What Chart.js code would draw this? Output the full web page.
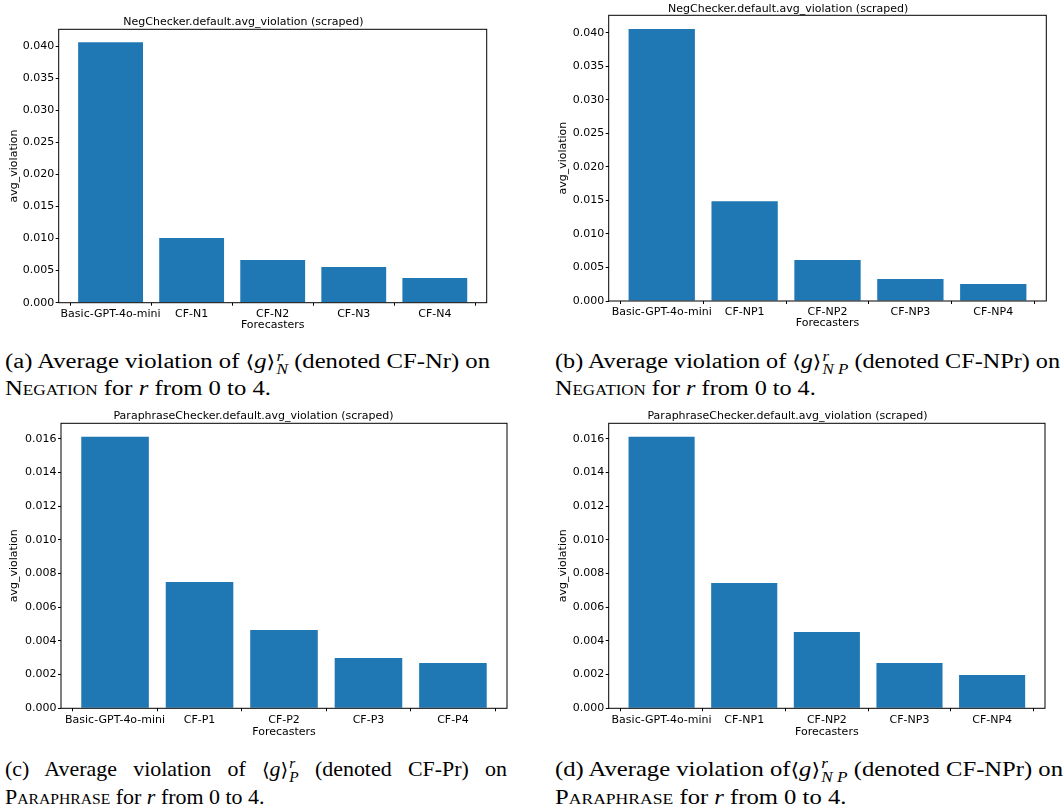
<!DOCTYPE html>
<html>
<head>
<meta charset="utf-8">
<script src="https://cdn.jsdelivr.net/npm/chart.js@4.4.1/dist/chart.umd.min.js"></script>
<style>
  html, body { margin: 0; padding: 0; background: #fff; }
  body { width: 1063px; height: 807px; position: relative; overflow: hidden; }
  canvas { position: absolute; }
  .cap { position: absolute; font-family: "Liberation Serif", "DejaVu Serif", serif; font-size: 20px; line-height: 24px; color: #000; white-space: nowrap; transform-origin: 0 0; }
  .cap i { font-style: italic; }
  .ab { font-family: "DejaVu Serif", serif; font-size: 0.9em; }
  .sc { font-variant: small-caps; }
  .ss { display: inline-block; vertical-align: -0.42em; font-size: 0.7em; line-height: 0.95em; font-style: italic; text-align: left; margin-left: 1px; }
  .ss span { display: block; }
  .line { display: inline-block; }
  .jl { display: block; text-align: justify; text-align-last: justify; }
</style>
</head>
<body>
<canvas id="cA" width="530" height="340" style="left:0px;top:0px"></canvas>
<canvas id="cB" width="533" height="340" style="left:530px;top:0px"></canvas>
<canvas id="cC" width="530" height="340" style="left:0px;top:400px"></canvas>
<canvas id="cD" width="533" height="340" style="left:530px;top:400px"></canvas>

<div class="cap" id="capA" style="left:5px;top:349px">
  <div><span class="line" id="capA1">(a) Average violation of <span class="ab">⟨</span><i>g</i><span class="ab">⟩</span><span class="ss"><span>r</span><span>N</span></span> (denoted CF-Nr) on</span></div>
  <div><span class="sc">Negation</span> for <i>r</i> from 0 to 4.</div>
</div>
<div class="cap" id="capB" style="left:555px;top:349px">
  <div><span class="line" id="capB1">(b) Average violation of <span class="ab">⟨</span><i>g</i><span class="ab">⟩</span><span class="ss"><span>r</span><span>N P</span></span> (denoted CF-NPr) on</span></div>
  <div><span class="sc">Negation</span> for <i>r</i> from 0 to 4.</div>
</div>
<div class="cap" id="capC" style="left:5px;top:757px;font-size:21px">
  <div><span class="line" id="capC1">(c) Average violation of <span class="ab">⟨</span><i>g</i><span class="ab">⟩</span><span class="ss"><span>r</span><span>P</span></span> (denoted CF-Pr) on</span></div>
  <div><span class="sc">Paraphrase</span> for <i>r</i> from 0 to 4.</div>
</div>
<div class="cap" id="capD" style="left:555px;top:757px;font-size:21px">
  <div><span class="line" id="capD1">(d) Average violation of<span class="ab">⟨</span><i>g</i><span class="ab">⟩</span><span class="ss"><span>r</span><span>N P</span></span> (denoted CF-NPr) on</span></div>
  <div><span class="sc">Paraphrase</span> for <i>r</i> from 0 to 4.</div>
</div>

<script>
// ---------- data ----------
const catsA = ['Basic-GPT-4o-mini', 'CF-N1', 'CF-N2', 'CF-N3', 'CF-N4'];
const valsA = [0.0406, 0.0101, 0.00665, 0.00556, 0.00385];

const catsB = ['Basic-GPT-4o-mini', 'CF-NP1', 'CF-NP2', 'CF-NP3', 'CF-NP4'];
const valsB = [0.0406, 0.0149, 0.00612, 0.00328, 0.00254];

const catsC = ['Basic-GPT-4o-mini', 'CF-P1', 'CF-P2', 'CF-P3', 'CF-P4'];
const valsC = [0.01612, 0.0075, 0.00465, 0.00299, 0.00269];

const catsD = ['Basic-GPT-4o-mini', 'CF-NP1', 'CF-NP2', 'CF-NP3', 'CF-NP4'];
const valsD = [0.01612, 0.00744, 0.00453, 0.00269, 0.00198];

const yTicksNeg = [0.000, 0.005, 0.010, 0.015, 0.020, 0.025, 0.030, 0.035, 0.040];
const yTicksPara = [0.000, 0.002, 0.004, 0.006, 0.008, 0.010, 0.012, 0.014, 0.016];

const titleNeg = 'NegChecker.default.avg_violation (scraped)';
const titlePara = 'ParaphraseChecker.default.avg_violation (scraped)';
const xTitle = 'Forecasters';
const yTitle = 'avg_violation';

// ---------- drawing ----------
Chart.defaults.font.family = '"DejaVu Sans", sans-serif';
Chart.defaults.font.size = 11;
Chart.defaults.color = '#000';

const framePlugin = {
  id: 'frame',
  afterDatasetsDraw(chart) {
    const a = chart.chartArea, ctx = chart.ctx;
    ctx.save();
    ctx.strokeStyle = '#000';
    ctx.lineWidth = 1;
    ctx.strokeRect(a.left, a.top, a.right - a.left, a.bottom - a.top);
    ctx.restore();
  }
};

function makeChart(id, cats, vals, yTicks, title, g) {
  const ctx = document.getElementById(id);
  const W = ctx.width, H = ctx.height;
  return new Chart(ctx, {
    type: 'bar',
    data: {
      datasets: [{
        data: vals.map((v, i) => ({ x: i, y: v })),
        backgroundColor: '#1f77b4',
        borderWidth: 0,
        barPercentage: 1.0,
        categoryPercentage: 0.8
      }]
    },
    options: {
      responsive: false,
      animation: false,
      devicePixelRatio: 1,
      layout: { padding: { left: 0, top: 0, right: W - g.R, bottom: 0 } },
      plugins: {
        legend: { display: false },
        tooltip: { enabled: false },
        title: {
          display: true,
          text: title,
          font: { size: 11, weight: 'normal', lineHeight: 1 },
          color: '#000',
          padding: { top: g.tt, bottom: g.T - g.tt - 11 }
        }
      },
      scales: {
        x: {
          type: 'linear',
          min: -0.64,
          max: 4.64,
          offset: false,
          afterBuildTicks: s => { s.ticks = cats.map((c, i) => ({ value: i })); },
          afterFit: s => { s.height = H - g.B; },
          ticks: {
            autoSkip: false,
            maxRotation: 0,
            padding: g.xp,
            callback: v => cats[v]
          },
          grid: { display: true, drawOnChartArea: false, drawTicks: true, tickLength: 3, color: '#000' },
          border: { display: false },
          title: {
            display: true, text: xTitle,
            font: { size: 11, lineHeight: 1 },
            padding: { top: 0, bottom: (H - 5.5) - g.xt }
          }
        },
        y: {
          type: 'linear',
          min: 0,
          max: Math.max(...vals) * 1.05,
          afterBuildTicks: s => { s.ticks = yTicks.map(v => ({ value: v })); },
          afterFit: s => { s.width = g.L; },
          ticks: {
            padding: 1.5,
            includeBounds: false,
            callback: v => Number(v).toFixed(3)
          },
          grid: { display: true, drawOnChartArea: false, drawTicks: true, tickLength: 3, color: '#000' },
          border: { display: false },
          title: {
            display: true, text: yTitle,
            font: { size: 11, lineHeight: 1 },
            padding: { top: g.yt - 5.5, bottom: 0 }
          }
        }
      }
    },
    plugins: [framePlugin]
  });
}

makeChart('cA', catsA, valsA, yTicksNeg, titleNeg,
  { L: 58.7, T: 29.3, R: 486.7, B: 302.7, tt: 16.2, yt: 14, xt: 325.5, xp: 2 });
makeChart('cB', catsB, valsB, yTicksNeg, titleNeg,
  { L: 78.7, T: 15.3, R: 516.3, B: 301, tt: 3.5, yt: 33.3, xt: 323.5, xp: 2 });
makeChart('cC', catsC, valsC, yTicksPara, titlePara,
  { L: 61, T: 23.3, R: 507, B: 308.3, tt: 10.2, yt: 14.5, xt: 332, xp: 2 });
makeChart('cD', catsD, valsD, yTicksPara, titlePara,
  { L: 78.7, T: 23.3, R: 515, B: 308.3, tt: 10.2, yt: 32.8, xt: 332, xp: 2 });

// fit caption widths to the columns of the reference layout
function fitCaption(capId, lineId, target, squeeze) {
  const cap = document.getElementById(capId);
  const line = document.getElementById(lineId);
  const w = line.getBoundingClientRect().width;
  let s = target / w;
  if (squeeze) {
    s = s * squeeze;
    line.classList.remove('line');
    line.classList.add('jl');
    line.style.width = (target / s) + 'px';
  }
  cap.style.transform = 'scaleX(' + s + ')';
}
fitCaption('capA', 'capA1', 485);
fitCaption('capB', 'capB1', 505);
fitCaption('capC', 'capC1', 502, 0.85);
fitCaption('capD', 'capD1', 508);
</script>
</body>
</html>
